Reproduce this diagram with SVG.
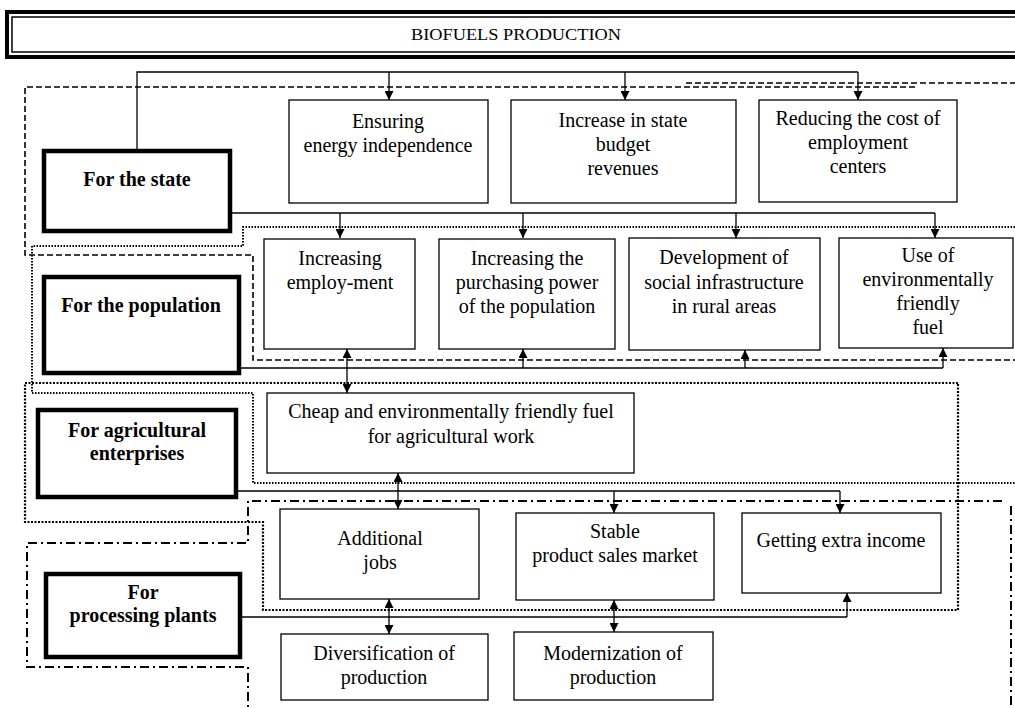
<svg xmlns="http://www.w3.org/2000/svg" width="1015" height="708" viewBox="0 0 1015 708">
<style>
text{font-family:"Liberation Serif","Times New Roman",serif;font-size:20px;fill:#000;text-anchor:middle}
.b{font-weight:bold}
.box{fill:#fff;stroke:#000;stroke-width:1.3}
.thick{fill:#fff;stroke:#000;stroke-width:4.5}
.ln{fill:none;stroke:#000;stroke-width:1.3}
.dash{fill:none;stroke:#000;stroke-width:1.6;stroke-dasharray:6 3}
.dot{fill:none;stroke:#000;stroke-width:2;stroke-dasharray:1.5 1.5}
.dot2{fill:none;stroke:#000;stroke-width:2.2;stroke-dasharray:2 1.5}
.dd{fill:none;stroke:#000;stroke-width:2;stroke-dasharray:9 4 2 4}
</style>
<defs>
<marker id="ah" viewBox="0 0 10 10" refX="10" refY="5" markerWidth="11" markerHeight="9" markerUnits="userSpaceOnUse" orient="auto-start-reverse"><path d="M0,0 L10,5 L0,10 z" fill="#000"/></marker>
</defs>
<rect width="1015" height="708" fill="#fff"/>

<g id="regions">
<path class="dash" d="M915,87 H25 V255 H253 V360 H1015"/>
<path class="dash" d="M686,83 H1015"/>
<path class="dot" d="M1015,227 H243 V246 H32 V393 H253 V483 H1015"/>
<path class="dot2" d="M958,383 H25 V522 H263 V610 H958 Z"/>
<path class="dd" d="M1002,501 H248 V543 H27 V667 H248 V708"/>
<path class="dd" d="M1011,506 V708"/>
</g>

<g id="title">
<rect x="7" y="12" width="1015" height="45" fill="#fff" stroke="#000" stroke-width="4"/>
<rect x="12" y="17" width="1010" height="35" fill="none" stroke="#000" stroke-width="1.5"/>
<text x="516" y="40" style="font-size:16px" textLength="210" lengthAdjust="spacingAndGlyphs">BIOFUELS PRODUCTION</text>
</g>

<g id="connectors">
<path class="ln" d="M137,149 V72 H858"/>
<path class="ln" marker-end="url(#ah)" d="M389,72 V100"/>
<path class="ln" marker-end="url(#ah)" d="M625,72 V100"/>
<path class="ln" marker-end="url(#ah)" d="M858,72 V100"/>
<path class="ln" d="M232,213 H935"/>
<path class="ln" marker-end="url(#ah)" d="M340,213 V238"/>
<path class="ln" marker-end="url(#ah)" d="M523,213 V238"/>
<path class="ln" marker-end="url(#ah)" d="M736,213 V238"/>
<path class="ln" marker-end="url(#ah)" d="M935,213 V238"/>
<path class="ln" d="M241,368 H943"/>
<path class="ln" marker-end="url(#ah)" d="M523,368 V349"/>
<path class="ln" marker-end="url(#ah)" d="M745,368 V350"/>
<path class="ln" marker-end="url(#ah)" d="M943,368 V348"/>
<path class="ln" marker-start="url(#ah)" marker-end="url(#ah)" d="M347,349 V393"/>
<path class="ln" d="M238,491 H840"/>
<path class="ln" marker-end="url(#ah)" d="M614,491 V513"/>
<path class="ln" marker-end="url(#ah)" d="M840,491 V513"/>
<path class="ln" marker-start="url(#ah)" marker-end="url(#ah)" d="M398,473 V509"/>
<path class="ln" d="M242,617 H847"/>
<path class="ln" marker-end="url(#ah)" d="M847,617 V593"/>
<path class="ln" marker-start="url(#ah)" marker-end="url(#ah)" d="M389,599 V634"/>
<path class="ln" marker-start="url(#ah)" marker-end="url(#ah)" d="M614,600 V632"/>
</g>

<g id="for-state"><rect class="thick" x="44" y="151" width="186" height="80"/><text class="b" x="137" y="186">For the state</text></g>
<g id="for-population"><rect class="thick" x="44" y="277" width="195" height="96"/><text class="b" x="141" y="312">For the population</text></g>
<g id="for-agri"><rect class="thick" x="38" y="410" width="198" height="87"/><text class="b" x="137" y="437">For agricultural</text><text class="b" x="137" y="460">enterprises</text></g>
<g id="for-processing"><rect class="thick" x="46" y="574" width="194" height="83"/><text class="b" x="143" y="599">For</text><text class="b" x="143" y="622">processing plants</text></g>

<g id="ensuring"><rect class="box" x="289" y="100" width="199" height="103"/><text x="388" y="128">Ensuring</text><text x="388" y="152">energy independence</text></g>
<g id="increase"><rect class="box" x="511" y="100" width="225" height="103"/><text x="623" y="127">Increase in state</text><text x="623" y="151">budget</text><text x="623" y="175">revenues</text></g>
<g id="reducing"><rect class="box" x="759" y="100" width="198" height="102"/><text x="858" y="125">Reducing the cost of</text><text x="858" y="149">employment</text><text x="858" y="173">centers</text></g>

<g id="inc-employment"><rect class="box" x="264" y="239" width="151" height="110"/><text x="340" y="265">Increasing</text><text x="340" y="289">employ-ment</text></g>
<g id="purchasing"><rect class="box" x="439" y="239" width="176" height="110"/><text x="527" y="265">Increasing the</text><text x="527" y="289">purchasing power</text><text x="527" y="313">of the population</text></g>
<g id="development"><rect class="box" x="629" y="238" width="191" height="112"/><text x="724" y="264">Development of</text><text x="724" y="289">social infrastructure</text><text x="724" y="313">in rural areas</text></g>
<g id="use-fuel"><rect class="box" x="839" y="238" width="174" height="110"/><text x="928" y="262">Use of</text><text x="928" y="286">environmentally</text><text x="928" y="310">friendly</text><text x="928" y="334">fuel</text></g>

<g id="cheap-fuel"><rect class="box" x="267" y="393" width="367" height="80"/><text x="451" y="418">Cheap and environmentally friendly fuel</text><text x="451" y="443">for agricultural work</text></g>

<g id="additional-jobs"><rect class="box" x="280" y="509" width="199" height="90"/><text x="380" y="545">Additional</text><text x="380" y="569">jobs</text></g>
<g id="stable-market"><rect class="box" x="516" y="513" width="198" height="87"/><text x="615" y="538">Stable</text><text x="615" y="562">product sales market</text></g>
<g id="extra-income"><rect class="box" x="742" y="513" width="199" height="80"/><text x="841" y="547">Getting extra income</text></g>

<g id="diversification"><rect class="box" x="281" y="634" width="207" height="66"/><text x="384" y="660">Diversification of</text><text x="384" y="684">production</text></g>
<g id="modernization"><rect class="box" x="514" y="632" width="199" height="68"/><text x="613" y="660">Modernization of</text><text x="613" y="684">production</text></g>
</svg>
